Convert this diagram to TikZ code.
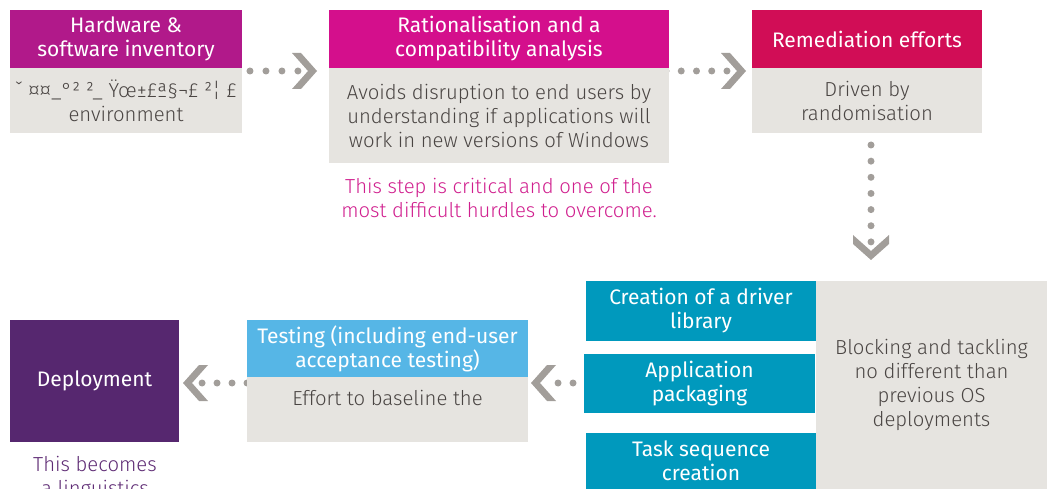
\documentclass[tikz,border=0pt]{standalone}
\usepackage{fontspec}
\setmainfont{Fira Sans}
\newfontfamily\bodyfont{Fira Sans Light}
\usetikzlibrary{calc}
\pgfdeclarelayer{bg}
\pgfsetlayers{bg,main}
\definecolor{cA}{HTML}{B1198A}
\definecolor{cB}{HTML}{D40F8C}
\definecolor{cC}{HTML}{D10D56}
\definecolor{cTeal}{HTML}{0099BD}
\definecolor{cSky}{HTML}{56B6E6}
\definecolor{cPurple}{HTML}{56276F}
\definecolor{boxgray}{HTML}{E6E4E0}
\definecolor{bodytxt}{HTML}{4A4543}
\definecolor{pinktxt}{HTML}{D01F8E}
\definecolor{purpletxt}{HTML}{5E2B74}
\definecolor{arrowgray}{HTML}{A29E9A}
\tikzset{
  boxbase/.style={anchor=north west, inner sep=0pt, outer sep=0pt, align=center},
  hdr/.style={boxbase, text=white, font=\fontsize{21}{24}\selectfont},
  bodybox/.style={boxbase, fill=boxgray, text=bodytxt, font=\bodyfont\fontsize{20.3}{24}\selectfont},
  notetext/.style={align=center, inner sep=0pt, font=\bodyfont\fontsize{20.3}{24}\selectfont},
  dotline/.style={draw=arrowgray, line width=7pt, line cap=round, dash pattern=on 0pt off #1},
  chevR/.pic={\fill[arrowgray] (0,0) -- (-16,-18) -- (-25,-18) -- (-9,0) -- (-25,18) -- (-16,18) -- cycle;},
  chevL/.pic={\fill[arrowgray] (0,0) -- (16,-18) -- (25,-18) -- (9,0) -- (25,18) -- (16,18) -- cycle;},
  chevD/.pic={\fill[arrowgray] (0,0) -- (-18,-16) -- (-18,-25) -- (0,-9) -- (18,-25) -- (18,-16) -- cycle;},
}
\begin{document}
\begin{tikzpicture}[x=1pt,y=-1pt]
\useasboundingbox (0,0) rectangle (1050,489);
\clip (0,0) rectangle (1050,489);

% top row
\node[hdr, fill=cA, minimum width=232pt, minimum height=58pt] (h1) at (10,10) {Hardware \&\\ software inventory};
\node[bodybox, minimum width=232pt, minimum height=65pt] (b1) at (10,68) {ˇ ¤¤\_°² ²\_ Ÿœ±£ª§¬£ ²¦ £\\ environment};

\node[hdr, fill=cB, minimum width=340pt, minimum height=58pt] (h2) at (329,10) {Rationalisation and a\\ compatibility analysis};
\node[bodybox, minimum width=340pt, minimum height=95pt] (b2) at (329,68) {Avoids disruption to end users by\\ understanding if applications will\\ work in new versions of Windows};
\node[notetext, text=pinktxt] (n2) at (499,198) {This step is critical and one of the\\ most difficult hurdles to overcome.};

\node[hdr, fill=cC, minimum width=230pt, minimum height=58pt] (h3) at (752,10) {Remediation efforts};
\node[bodybox, minimum width=230pt, minimum height=65pt] (b3) at (752,68) {Driven by\\ randomisation};

% right group
\node[bodybox, minimum width=231pt, minimum height=208pt] (g4) at (816,281) {Blocking and tackling\\ no different than\\ previous OS\\ deployments};
\node[hdr, fill=cTeal, minimum width=230pt, minimum height=60pt] (t1) at (586,281) {Creation of a driver\\ library};
\node[hdr, fill=cTeal, minimum width=231pt, minimum height=59pt] (t2) at (584,354) {Application\\ packaging};
\node[hdr, fill=cTeal, minimum width=230pt, minimum height=56pt] (t3) at (586,433) {Task sequence\\ creation};

% testing
\node[hdr, fill=cSky, minimum width=281pt, minimum height=57pt] (h5) at (247,320) {Testing (including end-user\\ acceptance testing)};
\node[bodybox, minimum width=281pt, minimum height=65pt] (b5) at (247,377) {Effort to baseline the\\ ~};

% deployment
\node[hdr, fill=cPurple, minimum width=169pt, minimum height=122pt] (d6) at (10,320) {Deployment};
\node[notetext, text=purpletxt] (n6) at (95,478) {This becomes\\ a linguistics};

% connectors
\begin{pgfonlayer}{bg}
\draw[dotline=15.98pt] ($(h1.south east)+(-8,3)$) coordinate (a1s) -- ($(h2.south west)+(-31,3)$) coordinate (a1e);
\pic at ($(h2.south west)+(-12,3)$) {chevR};

\draw[dotline=15.24pt] ($(h2.south east)+(-3,3)$) coordinate (a2s) -- ($(h3.south west)+(-25,3)$) coordinate (a2e);
\pic at ($(h3.south west)+(-6,3)$) {chevR};

\draw[dotline=16.15pt] ($(b3.south)+(4,12)$) coordinate (a3s) -- ($(b3.south)+(4,109)$) coordinate (a3e);
\pic at ($(b3.south)+(4,127)$) {chevD};

\draw[dotline=14.98pt] ($(t2.west)+(4,-0.5)$) coordinate (a4s) -- ($(t2.west)+(-34,-0.5)$) coordinate (a4e);
\pic at ($(t2.west)+(-53,-0.5)$) {chevL};

\draw[dotline=14.98pt] ($(h5.south west)+(0,6)$) coordinate (a5s) -- ($(h5.south west)+(-45,6)$) coordinate (a5e);
\pic at ($(h5.south west)+(-64,6)$) {chevL};
\end{pgfonlayer}
\end{tikzpicture}
\end{document}
